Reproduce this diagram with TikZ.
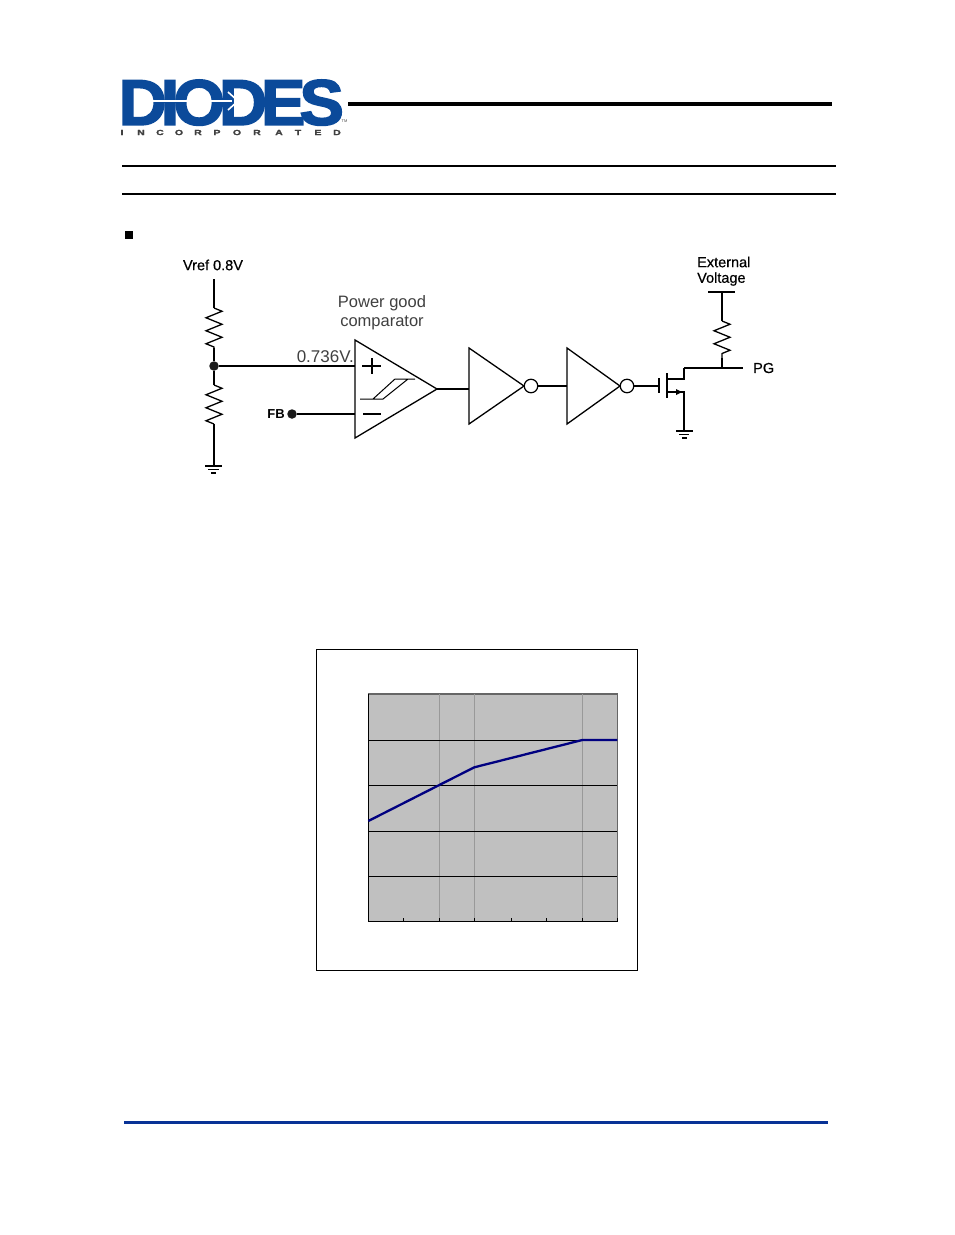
\documentclass[tikz,border=0pt]{standalone}
\usepackage{fontspec}
\setmainfont{Liberation Sans}
\newfontfamily\labfont{Liberation Sans}[FakeBold=0.5]
\newfontfamily\logofont{Liberation Sans Bold}[FakeBold=2.5, LetterSpace=-9]
\newfontfamily\incfont{Liberation Sans Bold}[FakeBold=1.5, FakeStretch=1.4]
\usetikzlibrary{arrows.meta, positioning, decorations.pathmorphing}
\definecolor{logoblue}{RGB}{11,74,154}
\definecolor{footblue}{RGB}{8,50,150}
\definecolor{plotgray}{RGB}{192,192,192}
\definecolor{curveblue}{RGB}{0,0,128}

\begin{document}
\begin{tikzpicture}[
        x=1pt, y=-1pt,
        wire/.style={line width=1.3pt},
        res/.style={line width=1.3pt, decorate, decoration={zigzag, segment length=13pt, amplitude=8pt}},
        gate/.style={line width=1.3pt, fill=white, line join=miter},
        dot/.style={circle, fill=black!90, inner sep=0pt, minimum size=9.5pt},
        bubble/.style={circle, draw, line width=1.2pt, fill=white, inner sep=0pt, minimum size=13.5pt},
        lab/.style={inner sep=0pt, font=\labfont\fontsize{14.5}{16}\selectfont},
        soft/.style={inner sep=0pt, text=black!75, font=\fontsize{16.5}{18}\selectfont}
    ]
    \useasboundingbox (0,0) rectangle (954,1235);

    % Logo and header
    \node [inner sep=0pt, anchor=south west, text=logoblue] (logo) at (118.5,125)
        {\raisebox{0pt}[\height][0pt]{\resizebox{225pt}{45pt}{\logofont DIODES}}};
    \draw [white, line width=2pt] (136,101) -- (232,101);
    \draw [white, line width=1.6pt] (228,92) -- (238,101) -- (228,110);
    \foreach \xx/\ch in {122/I,141/N,160/C,179/O,198/R,217/P,237/O,257/R,279/A,298/T,318/E,337/D}
        \node [inner sep=0pt, text=black!75, font=\incfont\fontsize{7.5}{8}\selectfont] (inc\xx) at (\xx,132.5) {\ch};
    \node [inner sep=0pt, text=black!70, font=\fontsize{4}{4}\selectfont] (tm) at (344.5,121) {TM};
    \draw [line width=4pt] (348,103.5) -- (832,103.5);
    \draw [line width=1.6pt] (122,166) -- (836,166);
    \draw [line width=1.6pt] (122,194) -- (836,194);
    \fill (125,231) rectangle (133,239);

    % Points of the divider
    \coordinate (vref) at (214,279);
    \coordinate (r1a) at (214,308);
    \coordinate (r1b) at (214,348);
    \node [dot] (mid) at (214,366) {};
    \coordinate (r2a) at (214,385);
    \coordinate (r2b) at (214,424);
    \coordinate (gnd1) at (214,466);
    \node [dot] (fb) at (292,414) {};

    % Comparator
    \coordinate (cp) at (355,366);
    \coordinate (cm) at (355,414);
    \coordinate (cout) at (437,389);
    \draw [gate] (355,340) -- (cout) -- (355,438) -- cycle;
    \draw [line width=1.3pt] (362,366) -- (381,366) (372,358) -- (372,374);
    \draw [line width=1.3pt] (363,414) -- (381,414);
    \draw [line width=1pt] (360,399) -- (383,399) (373,399) -- (395,379) (383,399) -- (408,379) (395,379) -- (415,379);

    % Inverters
    \coordinate (in1) at (469,386);
    \coordinate (in2) at (567,386);
    \draw [gate] (469,348) -- (524,386) -- (469,424) -- cycle;
    \node [bubble] (b1) at (531,386) {};
    \draw [gate] (567,348) -- (620,386) -- (567,424) -- cycle;
    \node [bubble] (b2) at (627,386) {};

    % Transistor
    \coordinate (gt) at (659,386);
    \coordinate (drain) at (684,368);
    \coordinate (src) at (684,392);
    \coordinate (pgend) at (743,368);
    \coordinate (rp) at (722,368);
    \coordinate (r3b) at (722,358);
    \coordinate (r3a) at (722,321);
    \coordinate (ext) at (722,292);
    \coordinate (gnd2) at (684,431);
    \draw [line width=1.3pt] (659,378) -- (659,393);
    \draw [line width=1.4pt] (667,373) -- (667,398);
    \draw [wire] (667,379) -- (684,379) -- (drain);
    \draw [wire] (667,392) -- (src) -- (gnd2);
    \fill (682,392) -- (676,389) -- (676,395) -- cycle;

    % Wires
    \draw [wire] (vref) -- (r1a);
    \draw [res] (r1a) -- (r1b);
    \draw [wire] (r1b) -- (mid) -- (r2a);
    \draw [res] (r2a) -- (r2b);
    \draw [wire] (r2b) -- (gnd1);
    \draw [wire] (mid) -- (cp);
    \draw [line width=2pt] (fb) -- (cm);
    \draw [wire] (cout) -- (469,389);
    \draw [wire] (b1) -- (in2);
    \draw [wire] (b2) -- (gt);
    \draw [line width=2pt] (drain) -- (pgend);
    \draw [wire] (ext) -- (r3a);
    \draw [res] (r3a) -- (r3b);
    \draw [wire] (r3b) -- (rp);
    \draw [wire] (708,292) -- (735,292);

    % Grounds
    \draw [line width=1.1pt] (205,466) -- (222,466) (208,469.5) -- (219,469.5) (211,473) -- (216,473);
    \draw [line width=1.1pt] (676,431) -- (693,431) (679,434.5) -- (689,434.5) (682,438) -- (687,438);

    % Labels
    \node [lab] (vreflab) at (213,265) {Vref 0.8V};
    \node [soft] (pwr) at (382,303) {Power good};
    \node [soft] (cmp) at (382,323) {comparator};
    \node [soft, anchor=east, font=\fontsize{17}{18}\selectfont] (vlab) at (354,356.5) {0.736V.};
    \node [lab, anchor=east, font=\fontsize{13}{14}\bfseries\selectfont] (fblab) at (285,414) {FB};
    \node [lab, anchor=west] (extlab) at (697,262) {External};
    \node [lab, anchor=west] (vollab) at (697,279) {Voltage};
    \node [lab, anchor=west] (pglab) at (753,368) {PG};

    % Chart
    \draw [line width=1.1pt] (316.7,649.5) rectangle (637.3,970.7);
    \fill [plotgray] (368.3,694) rectangle (617.3,921.7);
    \draw [black!60, line width=1.2pt] (368.3,694) -- (617.3,694) -- (617.3,921.7);
    \foreach \xx in {439.3,474.3,582.3}
        \draw [black!40, line width=0.9pt] (\xx,694) -- (\xx,921.7);
    \foreach \yy in {740,785.3,831.3,876}
        \draw [line width=0.8pt] (368.3,\yy) -- (617.3,\yy);
    \foreach \xx in {403.3,439.3,474.3,511.3,546.3,582.3,617.3}
        \draw [line width=0.9pt] (\xx,918) -- (\xx,921.7);
    \draw [line width=1.1pt] (368.3,694) -- (368.3,921.7) -- (617.3,921.7);
    \draw [curveblue, line width=2.3pt] (368.3,821) -- (439.3,785) -- (474.3,767.3) -- (582.3,740) -- (617.3,740);

    % Footer
    \draw [footblue, line width=3pt] (124,1122) -- (828,1122);
\end{tikzpicture}
\end{document}
